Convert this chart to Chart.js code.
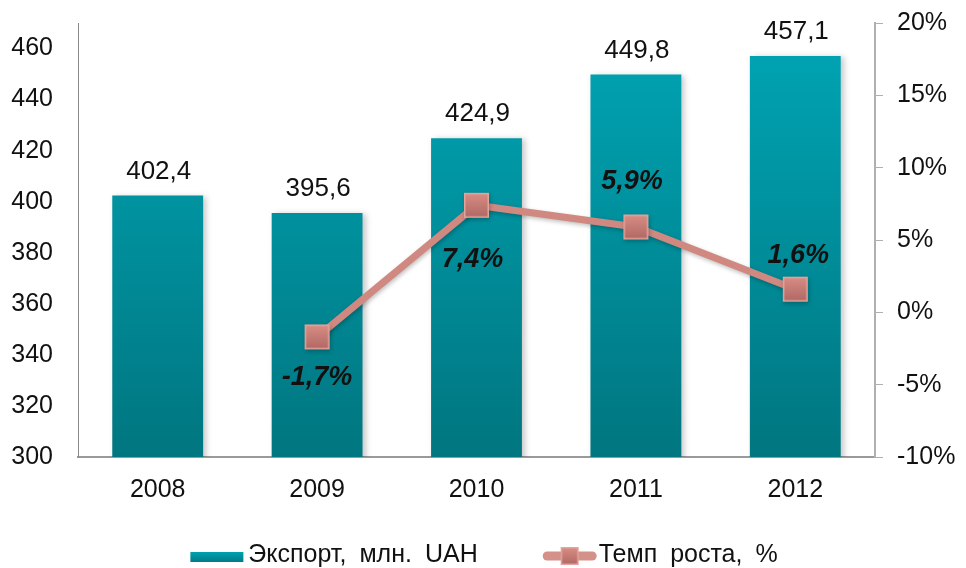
<!DOCTYPE html>
<html>
<head>
<meta charset="utf-8">
<script src="https://cdn.jsdelivr.net/npm/chart.js@4.4.1/dist/chart.umd.min.js"></script>
<style>
  html, body { margin: 0; padding: 0; background: #ffffff; }
  #wrap { width: 966px; height: 568px; position: relative; }
</style>
</head>
<body>
<div id="wrap"><canvas id="c" width="966" height="568"></canvas></div>
<script>
const categories = ['2008', '2009', '2010', '2011', '2012'];
const exportValues = [402.4, 395.6, 424.9, 449.8, 457.1];
const growthValues = [null, -1.7, 7.4, 5.9, 1.6];
const leftTickValues = [300, 320, 340, 360, 380, 400, 420, 440, 460];
const rightTickValues = [-10, -5, 0, 5, 10, 15, 20];
const seriesNames = ['Экспорт, млн. UAH', 'Темп роста, %'];

const FONT = '"Liberation Sans", Arial, sans-serif';
const fmt = v => String(v).replace('.', ',');

function makeMarker(size) {
  const pad = 2;
  const cv = document.createElement('canvas');
  cv.width = size + pad * 2; cv.height = size + pad * 2;
  const g = cv.getContext('2d');
  const gr = g.createLinearGradient(0, pad, 0, pad + size);
  gr.addColorStop(0, '#d98e85');
  gr.addColorStop(1, '#b06864');
  g.fillStyle = gr;
  g.fillRect(pad, pad, size, size);
  g.strokeStyle = '#e3a49b';
  g.lineWidth = 1.5;
  g.strokeRect(pad + 0.75, pad + 0.75, size - 1.5, size - 1.5);
  return cv;
}
const bigMarker = makeMarker(25);
const smallMarker = makeMarker(18);

function barGradient(context) {
  const chart = context.chart;
  const area = chart.chartArea;
  if (!area) return '#0093a1';
  const g = chart.ctx.createLinearGradient(0, area.top, 0, area.bottom);
  g.addColorStop(0, '#00a6b6');
  g.addColorStop(1, '#007680');
  return g;
}

const shadowPlugin = {
  id: 'shadows',
  beforeDatasetDraw(chart, args) {
    const ctx = chart.ctx;
    ctx.save();
    if (args.index === 0) {
      ctx.shadowColor = 'rgba(0,0,0,0.22)';
      ctx.shadowBlur = 6;
      ctx.shadowOffsetX = 3;
      ctx.shadowOffsetY = 1;
    } else {
      ctx.shadowColor = 'rgba(0,0,0,0.25)';
      ctx.shadowBlur = 4;
      ctx.shadowOffsetX = 1;
      ctx.shadowOffsetY = 2;
    }
  },
  afterDatasetDraw(chart) {
    chart.ctx.restore();
  }
};

const labelPlugin = {
  id: 'valueLabels',
  afterDatasetsDraw(chart, args, opts) {
    const ctx = chart.ctx;
    ctx.save();
    ctx.textAlign = 'center';
    ctx.textBaseline = 'alphabetic';
    ctx.fillStyle = '#111111';
    const barMeta = chart.getDatasetMeta(0);
    ctx.font = '26px ' + FONT;
    barMeta.data.forEach((el, i) => {
      ctx.fillText(fmt(exportValues[i]), el.x + 1, el.y - 17);
    });
    const lineMeta = chart.getDatasetMeta(1);
    ctx.font = 'italic bold 27px ' + FONT;
    lineMeta.data.forEach((el, i) => {
      const v = growthValues[i];
      if (v === null) return;
      const off = opts.lineLabelOffsets[i] || [0, -30];
      ctx.fillText(fmt(v) + '%', el.x + off[0], el.y + off[1]);
    });
    ctx.restore();
  }
};

const legendPlugin = {
  id: 'bottomLegend',
  afterDraw(chart) {
    const ctx = chart.ctx;
    ctx.save();
    ctx.font = '25px ' + FONT;
    try { ctx.wordSpacing = '6px'; } catch (e) {}
    ctx.textBaseline = 'alphabetic';
    ctx.textAlign = 'left';
    const base = 562;
    const mid = 556;
    const w1 = ctx.measureText(seriesNames[0]).width;
    const w2 = ctx.measureText(seriesNames[1]).width;
    const box1 = 53, gap1 = 5, between = 65, box2 = 54, gap2 = 2;
    const total = box1 + gap1 + w1 + between + box2 + gap2 + w2;
    let x = 484 - total / 2;
    const g = ctx.createLinearGradient(0, mid - 5, 0, mid + 5);
    g.addColorStop(0, '#00a6b6');
    g.addColorStop(1, '#007f8a');
    ctx.fillStyle = g;
    ctx.fillRect(x, mid - 4, box1, 10);
    x += box1 + gap1;
    ctx.fillStyle = '#111111';
    ctx.fillText(seriesNames[0], x, base);
    x += w1 + between;
    ctx.strokeStyle = '#d3918a';
    ctx.lineWidth = 9;
    ctx.lineCap = 'round';
    ctx.beginPath();
    ctx.moveTo(x + 4.5, mid);
    ctx.lineTo(x + box2 - 4.5, mid);
    ctx.stroke();
    ctx.drawImage(smallMarker, x + box2 / 2 - smallMarker.width / 2, mid - smallMarker.height / 2);
    x += box2 + gap2;
    ctx.fillStyle = '#111111';
    ctx.fillText(seriesNames[1], x, base);
    ctx.restore();
  }
};

function noPad(s) { s.paddingTop = 0; s.paddingBottom = 0; }

new Chart(document.getElementById('c'), {
  data: {
    labels: categories,
    datasets: [
      {
        type: 'bar',
        label: seriesNames[0],
        data: exportValues,
        yAxisID: 'y',
        backgroundColor: barGradient,
        borderWidth: 0,
        categoryPercentage: 1,
        barPercentage: 0.57,
        order: 1
      },
      {
        type: 'line',
        label: seriesNames[1],
        data: growthValues,
        yAxisID: 'y1',
        borderColor: '#cf8981',
        borderWidth: 7,
        pointStyle: bigMarker,
        pointRadius: 13,
        pointHoverRadius: 13,
        tension: 0,
        spanGaps: false,
        order: 0
      }
    ]
  },
  options: {
    responsive: false,
    animation: false,
    events: [],
    layout: { autoPadding: false, padding: { top: 23, bottom: 50, left: 0, right: 0 } },
    plugins: {
      legend: { display: false },
      tooltip: { enabled: false },
      title: { display: false },
      valueLabels: {
        lineLabelOffsets: [null, [0, 48], [-4, 62], [-4, -38], [3, -26]]
      }
    },
    scales: {
      x: {
        grid: { display: false, drawTicks: false },
        border: { display: true, color: '#9a9a9a', width: 2 },
        ticks: { color: '#111111', font: { family: FONT, size: 25 }, padding: 18 },
        afterFit(s) { s.height = 61; }
      },
      y: {
        position: 'left',
        min: 300,
        max: 470,
        afterBuildTicks(s) { s.ticks = leftTickValues.map(v => ({ value: v })); },
        grid: { display: false, drawTicks: false },
        border: { display: true, color: '#8a8a8a', width: 1 },
        ticks: { color: '#111111', font: { family: FONT, size: 25 }, padding: 25 },
        afterFit(s) { s.width = 78; noPad(s); }
      },
      y1: {
        position: 'right',
        min: -10,
        max: 20,
        afterBuildTicks(s) { s.ticks = rightTickValues.map(v => ({ value: v })); },
        grid: { display: true, drawOnChartArea: false, drawTicks: true, tickLength: 8, color: '#b0b0b0', lineWidth: 1 },
        border: { display: true, color: '#b0b0b0', width: 2 },
        ticks: {
          color: '#111111',
          font: { family: FONT, size: 25 },
          padding: 14,
          callback: v => v + '%'
        },
        afterFit(s) { s.width = 91; noPad(s); }
      }
    }
  },
  plugins: [shadowPlugin, labelPlugin, legendPlugin]
});
</script>
</body>
</html>
